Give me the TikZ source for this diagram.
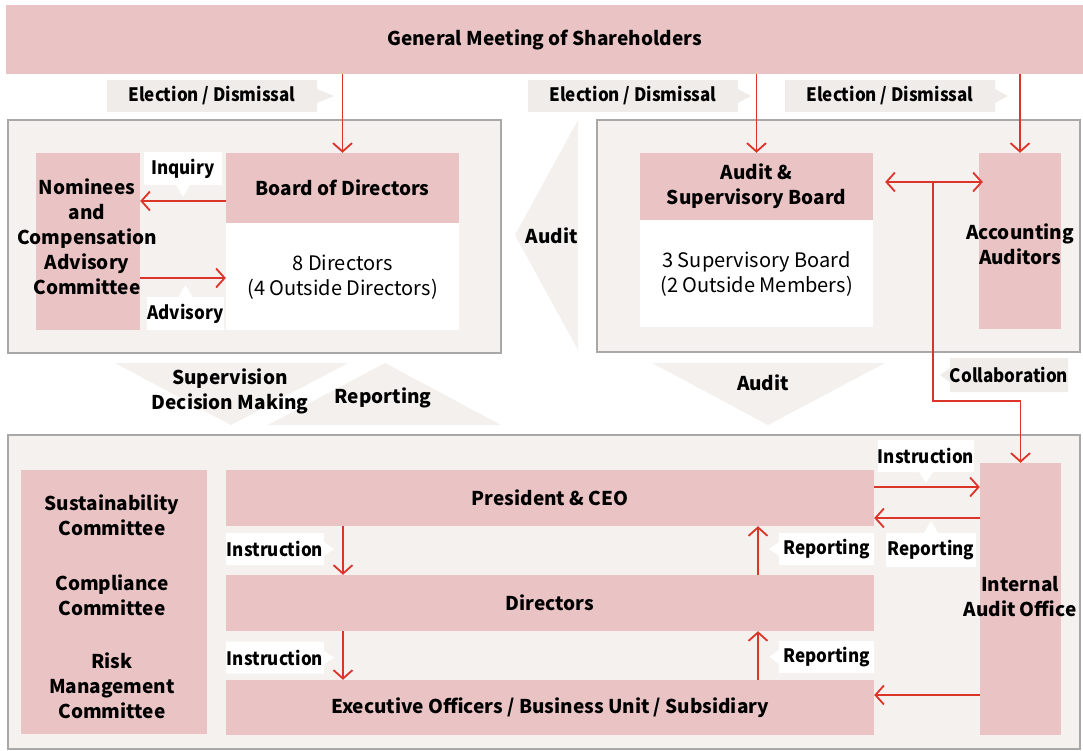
\documentclass[tikz,border=0pt]{standalone}
\usepackage{fontspec}
\setmainfont{Noto Sans CJK JP}
\newfontfamily\narrowfont{Noto Sans CJK JP}[FakeStretch=0.92]
\usepackage{tikz}
\usetikzlibrary{positioning}
\usetikzlibrary{calc,arrows.meta,shapes.callouts}

\definecolor{gmpink}{RGB}{234,196,197}
\definecolor{gmred}{RGB}{221,52,42}
\definecolor{panelfill}{RGB}{244,241,238}
\definecolor{paneledge}{RGB}{168,168,168}
\definecolor{tagfill}{RGB}{239,236,233}
\definecolor{chevfill}{RGB}{243,240,237}

\newcommand{\headfont}{\fontsize{19}{25}\selectfont\bfseries}
\newcommand{\tagtext}{\narrowfont\bfseries\fontsize{18.5}{23}\selectfont}
\newcommand{\bodytext}{\fontsize{20}{25}\selectfont}

\tikzset{
  panel/.style={fill=panelfill, draw=paneledge, line width=1.5pt},
  pinkbox/.style={fill=gmpink, inner sep=0pt, align=center, font=\headfont},
  whitebox/.style={fill=white, inner sep=0pt, align=center, font=\bodytext},
  plain/.style={inner sep=0pt, align=center, font=\headfont},
  tag/.style={rectangle callout, fill=tagfill, inner sep=0pt,
    callout pointer width=14pt, font=\tagtext},
  note/.style={tag, fill=white},
  redarrow/.style={draw=gmred, line width=1.8pt,
    -{Straight Barb[length=8.5pt,width=19pt]}},
  chevron/.style={fill=chevfill},
}

\begin{document}
\begin{tikzpicture}[x=1pt, y=-1pt]

	\useasboundingbox (0,0) rectangle (1083,751);

	% Large pale arrows between the three groups (drawn first, they sit behind)
	\fill[chevron] (578,120) -- (515,235) -- (578,350) -- cycle;
	\fill[chevron] (115,363) -- (348,363) -- (231,425) -- cycle;
	\fill[chevron] (268,425) -- (501,425) -- (385,363) -- cycle;
	\fill[chevron] (652,363) -- (885,363) -- (768,425) -- cycle;

	% The three grey panels
	\draw[panel] (8,120) rectangle (501,353);
	\draw[panel] (597,120) rectangle (1080,352);
	\draw[panel] (8,435) rectangle (1080,749);

	% Shareholders on top
	\node[pinkbox, minimum width=1077pt, minimum height=69pt] (gm) at (544.5,39.5) {General Meeting of Shareholders};

	\node[tag, minimum width=210pt, minimum height=32pt, callout absolute pointer={(334,96)}] (elect1) at (212,96) {Election / Dismissal};
	\node[tag, minimum width=210pt, minimum height=32pt, callout absolute pointer={(751,96)}] (elect2) at (633,96) {Election / Dismissal};
	\node[tag, minimum width=210pt, minimum height=32pt, callout absolute pointer={(1008,96)}] (elect3) at (890,96) {Election / Dismissal};

	% Left panel: board
	\node[pinkbox, minimum width=104pt, minimum height=177pt] (nom) at (88,241.5) {};
	\node[plain] (nomtext) at (87,237) {Nominees\\and\\Compensation\\Advisory\\Committee};

	\node[pinkbox, minimum width=233pt, minimum height=70pt] (bodhead) at (342.5,188) {Board of Directors};
	\node[whitebox, minimum width=233pt, minimum height=107pt, below=0pt of bodhead] (bodbody) {8 Directors\\(4 Outside Directors)};

	\node[note, minimum width=78pt, minimum height=33pt, callout absolute pointer={(183,197)}] (inquiry) at (183,168.5) {Inquiry};
	\node[note, minimum width=77pt, minimum height=33pt, callout absolute pointer={(185.5,285)}] (advisory) at (185.5,313.5) {Advisory};

	\node[plain] (auditl) at (552,236) {Audit};
	\node[plain] (supervision) at (230,391) {Supervision\\Decision Making};
	\node[plain] (reportup) at (383,398) {Reporting};
	\node[plain] (auditd) at (763,383) {Audit};

	% Right panel: auditors
	\node[pinkbox, minimum width=233pt, minimum height=67pt] (asbhead) at (756.5,186.5) {Audit \&\\Supervisory Board};
	\node[whitebox, minimum width=233pt, minimum height=107pt, below=0pt of asbhead] (asbbody) {3 Supervisory Board\\(2 Outside Members)};

	\node[pinkbox, minimum width=82pt, minimum height=176pt] (aa) at (1020,241) {};
	\node[plain] (aatext) at (1020,244.5) {Accounting\\Auditors};

	\node[tag, minimum width=118pt, minimum height=34pt, callout absolute pointer={(940,375)}] (collab) at (1009,375) {Collaboration};

	% Bottom panel: execution
	\node[pinkbox, minimum width=186pt, minimum height=264pt] (cmte) at (114,602) {};
	\node[plain] (cmtetext) at (112,607) {Sustainability\\Committee\\[30pt]Compliance\\Committee\\[28pt]Risk\\Management\\Committee};

	\node[pinkbox, minimum width=648pt, minimum height=56pt] (pceo) at (550,498) {President \& CEO};
	\node[pinkbox, minimum width=648pt, minimum height=56pt] (dirs) at (550,603) {Directors};
	\node[pinkbox, minimum width=648pt, minimum height=55pt] (exec) at (550,707.5) {Executive Officers / Business Unit / Subsidiary};

	\node[pinkbox, minimum width=81pt, minimum height=272pt] (iao) at (1020.5,599) {};
	\node[plain] (iaotext) at (1020,596.5) {Internal\\Audit Office};

	\node[note, minimum width=98pt, minimum height=32pt, callout absolute pointer={(334,549)}] (instr1) at (275,549) {Instruction};
	\node[note, minimum width=98pt, minimum height=32pt, callout absolute pointer={(334,657.5)}] (instr2) at (275,657.5) {Instruction};
	\node[note, minimum width=95pt, minimum height=32pt, callout absolute pointer={(769,549)}] (rep1) at (826.5,549) {Reporting};
	\node[note, minimum width=95pt, minimum height=32pt, callout absolute pointer={(769,657)}] (rep2) at (826.5,657) {Reporting};
	\node[note, minimum width=94pt, minimum height=32pt, callout absolute pointer={(926,483)}] (instr3) at (926,456) {Instruction};
	\node[note, minimum width=90pt, minimum height=34pt, callout absolute pointer={(931,521)}] (rep3) at (931,550) {Reporting};

	% Helper coordinates for the arrow lines
	\coordinate (inq) at (0,201);
	\coordinate (adv) at (0,278);
	\coordinate (split) at (933,182);
	\coordinate (bend) at (933,401);
	\coordinate (downx) at (343,0);
	\coordinate (upx) at (758,0);
	\coordinate (toiao) at (0,487);
	\coordinate (fromiao) at (0,518);
	\coordinate (toexec) at (0,695);

	% Red arrows
	\draw[redarrow] (gm.south -| bodhead.north) -- (bodhead.north);
	\draw[redarrow] (gm.south -| asbhead.north) -- (asbhead.north);
	\draw[redarrow] (gm.south -| aa.north) -- (aa.north);

	\draw[redarrow] (bodhead.west |- inq) -- (nom.east |- inq);
	\draw[redarrow] (nom.east |- adv) -- (bodbody.west |- adv);

	\draw[redarrow, {Straight Barb[length=8.5pt,width=19pt]}-] ($(asbhead.east |- split)+(12,0)$) -- (split);
	\draw[redarrow] (split) -- ($(aa.west |- split)+(4,0)$);
	\draw[redarrow] (split) -- (bend) -| (iao.north);

	\draw[redarrow] (pceo.south -| downx) -- (dirs.north -| downx);
	\draw[redarrow] (dirs.south -| downx) -- (exec.north -| downx);
	\draw[redarrow] (dirs.north -| upx) -- (pceo.south -| upx);
	\draw[redarrow] (exec.north -| upx) -- (dirs.south -| upx);

	\draw[redarrow] (pceo.east |- toiao) -- (iao.west |- toiao);
	\draw[redarrow] (iao.west |- fromiao) -- (pceo.east |- fromiao);
	\draw[redarrow] (iao.west |- toexec) -- (exec.east |- toexec);

\end{tikzpicture}
\end{document}
